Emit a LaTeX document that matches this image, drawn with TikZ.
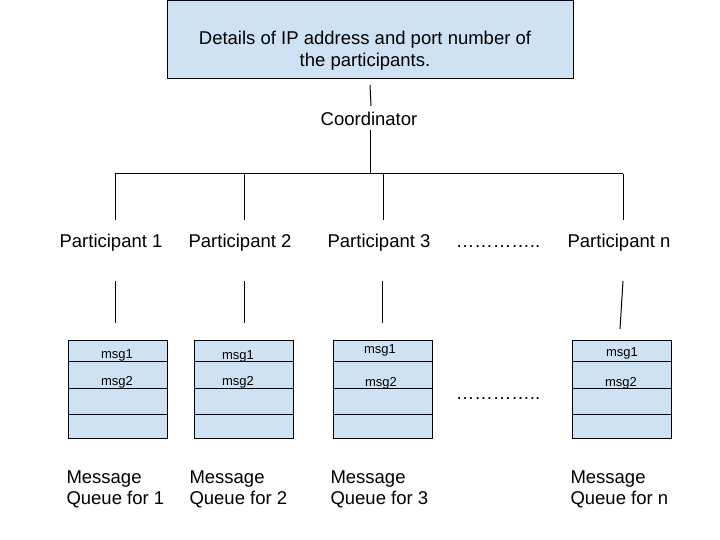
\documentclass[tikz,border=0pt]{standalone}
\usepackage{fontspec}
\setmainfont{Liberation Sans}
\definecolor{boxblue}{HTML}{CFE2F3}
\begin{document}
\begin{tikzpicture}[x=1bp,y=-1bp,
  every path/.style={line width=1bp},
  bigtxt/.style={font=\fontsize{18.5bp}{22bp}\selectfont, inner sep=0pt},
  smalltxt/.style={font=\fontsize{13bp}{15bp}\selectfont, inner sep=0pt, anchor=base},
  bluebox/.style={draw=black, fill=boxblue, inner sep=0pt},
  queue/.style={bluebox, minimum width=99bp, minimum height=98bp},
  link/.style={draw=black}
]
\useasboundingbox (0,0) rectangle (720,540);
\fill[white] (0,0) rectangle (720,540);

% top box
\node[bluebox, minimum width=406bp, minimum height=78bp] (details) at (370,40) {};
\node[bigtxt, align=center, anchor=north] (dtext) at (365,31) {Details of IP address and port number of\\the participants.};

% coordinator
\node[bigtxt, anchor=base] (coord) at (369,125.5) {Coordinator};
\coordinate (c1) at (370,85);
\coordinate (c2) at (371,106);
\coordinate (c3) at (370,130);
\coordinate (hub) at (370,174);
\draw[link] (c1) -- (c2);
\draw[link] (c3) -- (hub);

% horizontal bus
\coordinate (b1) at (115,174);
\coordinate (b2) at (244,174);
\coordinate (b3) at (383,174);
\coordinate (bn) at (623,174);
\draw[link] (b1) -- (bn);
\coordinate (t1) at (115,220);
\coordinate (t2) at (244,220);
\coordinate (t3) at (383,220);
\coordinate (tn) at (623,220);
\draw[link] (b1) -- (t1);
\draw[link] (b2) -- (t2);
\draw[link] (b3) -- (t3);
\draw[link] (bn) -- (tn);

% participants
\node[bigtxt, anchor=base] (p1) at (111,247.5) {Participant 1};
\node[bigtxt, anchor=base] (p2) at (240,247.5) {Participant 2};
\node[bigtxt, anchor=base] (p3) at (379,247.5) {Participant 3};
\node[bigtxt, anchor=base] (pdots) at (498,247.5) {…………..};
\node[bigtxt, anchor=base] (pn) at (619,247.5) {Participant n};

% queues
\node[queue] (q1) at (118,389) {};
\node[queue] (q2) at (243.5,389) {};
\node[queue] (q3) at (382.5,389) {};
\node[queue] (qn) at (621.5,389) {};
\foreach \q in {q1,q2,q3,qn}{
  \draw ([yshift=-22bp]\q.north west) -- ([yshift=-22bp]\q.north east);
  \draw ([yshift=-49bp]\q.north west) -- ([yshift=-49bp]\q.north east);
  \draw ([yshift=24bp]\q.south west) -- ([yshift=24bp]\q.south east);
}
\node[bigtxt, anchor=base] (qdots) at (498,399.5) {…………..};

% links participants -> queues
\coordinate (u1) at (115,281);
\coordinate (u2) at (244,281);
\coordinate (u3) at (382,281);
\coordinate (un) at (623,281);
\draw[link] (u1) -- ([yshift=17bp]q1.north -| u1);
\draw[link] (u2) -- ([yshift=17bp]q2.north -| u2);
\draw[link] (u3) -- ([yshift=17bp]q3.north -| u3);
\coordinate (vn) at (620,329);
\draw[link] (un) -- (vn);

% messages
\node[smalltxt] (m11) at (117,358) {msg1};
\node[smalltxt] (m12) at (117,385) {msg2};
\node[smalltxt] (m21) at (238,359) {msg1};
\node[smalltxt] (m22) at (238,385) {msg2};
\node[smalltxt] (m31) at (380,353) {msg1};
\node[smalltxt] (m32) at (381,386) {msg2};
\node[smalltxt] (mn1) at (622,356) {msg1};
\node[smalltxt] (mn2) at (621,386) {msg2};

% labels
\node[bigtxt, align=left, anchor=north west, font=\fontsize{18.5bp}{21bp}\selectfont] (l1) at (66,469.8) {Message\\Queue for 1};
\node[bigtxt, align=left, anchor=north west, font=\fontsize{18.5bp}{21bp}\selectfont] (l2) at (189,469.8) {Message\\Queue for 2};
\node[bigtxt, align=left, anchor=north west, font=\fontsize{18.5bp}{21bp}\selectfont] (l3) at (330,469.8) {Message\\Queue for 3};
\node[bigtxt, align=left, anchor=north west, font=\fontsize{18.5bp}{21bp}\selectfont] (ln) at (570,469.8) {Message\\Queue for n};
\end{tikzpicture}
\end{document}
